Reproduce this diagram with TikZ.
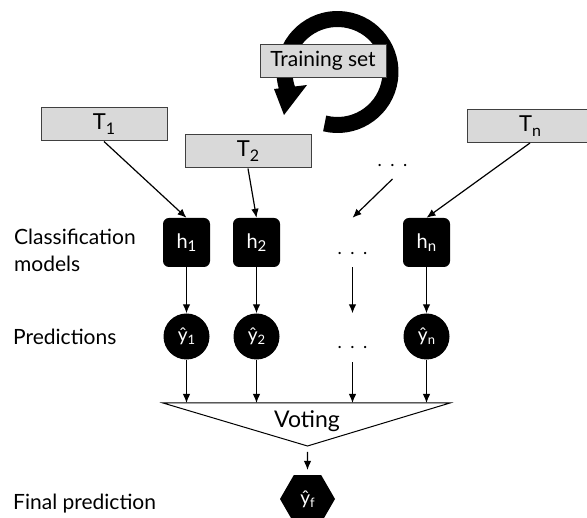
\documentclass[tikz,border=0pt]{standalone}
\usepackage{fontspec}
\setmainfont{Lato}
\usetikzlibrary{arrows.meta,shapes.geometric}
\newcommand\lowsub[3]{\raisebox{-#2}{\fontsize{#3}{#3}\selectfont #1}}
\newcommand\dotrow{.\hspace{8.5pt}.\hspace{8.5pt}.}
\begin{document}
\begin{tikzpicture}[x=1pt,y=-1pt,
  tbox/.style={draw=black!75, fill=black!15, line width=1pt, minimum width=126pt,
    minimum height=33pt, inner sep=0pt},
  hbox/.style={fill=black, rounded corners=6pt, minimum width=47pt, minimum height=49pt,
    inner sep=0pt, text=white, font=\fontsize{20}{22}\selectfont},
  ghostbox/.style={minimum width=47pt, minimum height=49pt, inner sep=0pt},
  pcirc/.style={circle, fill=black, minimum size=46pt, inner sep=0pt, text=white,
    font=\fontsize{19}{20}\selectfont},
  ghostcirc/.style={circle, minimum size=46pt, inner sep=0pt},
  lab/.style={inner sep=0pt, font=\fontsize{21}{27}\selectfont},
  arr/.style={-{Latex[length=9pt,width=7.5pt]}, line width=1.2pt},
  dotsn/.style={inner sep=0pt, anchor=base, font=\fontsize{18}{20}\selectfont},
  tfont/.style={font=\fontsize{22}{24}\selectfont},
]
\useasboundingbox (0,0) rectangle (587,518);

% circular arrow round the training set
\draw[line width=16pt] (337.5,72) ++(104:53) arc[start angle=104, end angle=-200, radius=53];
\fill (274,89) -- (307,85) -- (284,115) -- cycle;
\node[tbox, font=\fontsize{21}{24}\selectfont] (ts) at (323,61) {Training set};

% training subsets
\node[tbox, tfont] (T1) at (104,124.5) {T\lowsub{1}{5pt}{16}};
\node[tbox, tfont] (T2) at (248,151.5) {T\lowsub{2}{5pt}{16}};
\node[tbox, tfont] (Tn) at (530,126) {T\lowsub{n}{5pt}{16}};
\node[dotsn] (dU) at (392.5,166.5) {\dotrow};
\coordinate (dUs) at (392.5,179);

% classification models
\node[hbox] (h1) at (186.5,242.5) {h\lowsub{1}{3pt}{15}};
\node[hbox] (h2) at (256.5,242.5) {h\lowsub{2}{3pt}{15}};
\node[hbox] (hn) at (426.5,242.5) {h\lowsub{n}{3pt}{15}};
\node[ghostbox] (hd) at (352.5,242.5) {};
\node[dotsn] (dM) at (352.5,254.5) {\dotrow};

% predictions
\node[pcirc] (y1) at (186.5,336.5) {ŷ\lowsub{1}{3pt}{13}};
\node[pcirc] (y2) at (256.5,336.5) {ŷ\lowsub{2}{3pt}{13}};
\node[pcirc] (yn) at (426.5,336.5) {ŷ\lowsub{n}{3pt}{13}};
\node[ghostcirc] (yd) at (352.5,336.5) {};
\node[dotsn] (dL) at (352.5,348.5) {\dotrow};

% voting
\coordinate (vl) at (163,403);
\coordinate (vr) at (450,403);
\coordinate (va) at (307.5,446);
\draw[line width=1pt, line join=miter] (vl) -- (vr) -- (va) -- cycle;
\node[inner sep=0pt, anchor=base, font=\fontsize{23}{26}\selectfont] (vt) at (307,428) {Voting};

% final prediction
\node[regular polygon, regular polygon sides=6, fill=black, minimum size=55pt,
  inner sep=0pt, text=white, font=\fontsize{19}{20}\selectfont] (yf) at (307.5,499) {ŷ\lowsub{f}{3pt}{13}};

% labels
\node[lab, anchor=west, align=left] (lc) at (14,250.5) {Classification\\models};
\node[lab, anchor=base west] (lp) at (13,345) {Predictions};
\node[lab, anchor=base west] (lf) at (13,510) {Final prediction};

% connectors
\draw[arr] (T1.south) -- (h1.north);
\draw[arr] (T2.south) -- (h2.north);
\draw[arr] (Tn.south) -- (hn.north);
\draw[arr] (dUs) -- (hd.north);
\draw[arr] (h1.south) -- (y1.north);
\draw[arr] (h2.south) -- (y2.north);
\draw[arr] (hd.south) -- (yd.north);
\draw[arr] (hn.south) -- (yn.north);
\draw[arr] (y1.south) -- (y1.south |- vl);
\draw[arr] (y2.south) -- (y2.south |- vl);
\draw[arr, shorten <=2.5pt] (yd.south) -- (yd.south |- vl);
\draw[arr] (yn.south) -- (yn.south |- vl);
\draw[arr, shorten <=6pt, shorten >=5pt] (va) -- (yf.north);
\end{tikzpicture}
\end{document}
